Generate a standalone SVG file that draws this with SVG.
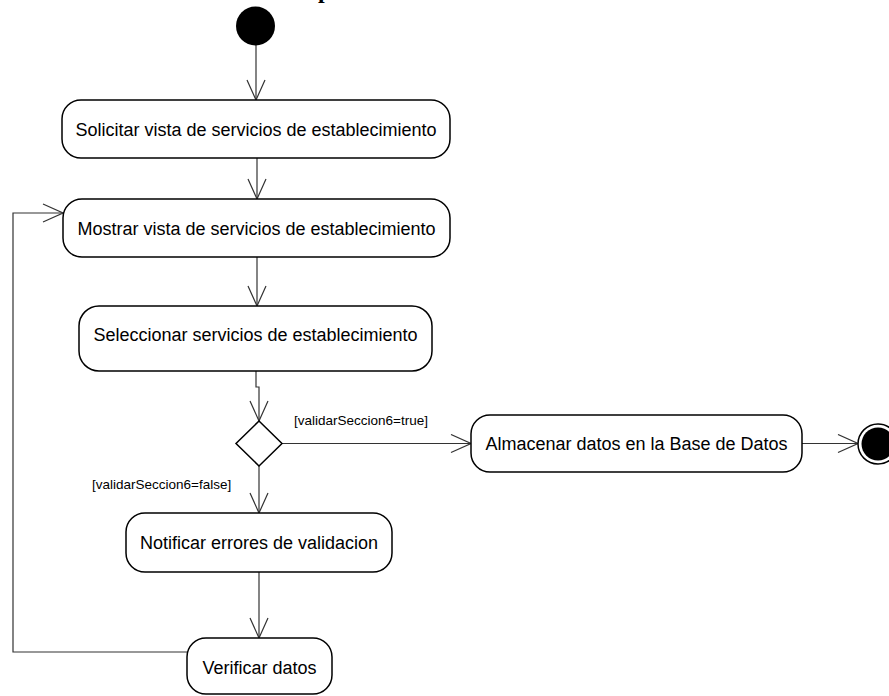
<svg xmlns="http://www.w3.org/2000/svg" width="889" height="696" viewBox="0 0 889 696">
<style>
.box{fill:#fff;stroke:#000;stroke-width:1.5}
.lbl{font-family:"Liberation Sans",Arial,sans-serif;font-size:18px;fill:#000}
.grd{font-family:"Liberation Sans",Arial,sans-serif;font-size:13.5px;fill:#000}
.edge{fill:none;stroke:#333;stroke-width:1.2}
</style>
<defs>
<marker id="open" viewBox="0 0 22 20" refX="21" refY="10" markerWidth="22" markerHeight="20" markerUnits="userSpaceOnUse" orient="auto">
<path d="M1,1 L21,10 L1,19" fill="none" stroke="#333" stroke-width="1.2"/>
</marker>
</defs>
<rect width="889" height="696" fill="#fff"/>
<text x="318" y="-2" font-family="Liberation Serif,serif" font-weight="bold" font-size="24" fill="#000">p</text>
<g id="connectors">
<path class="edge" d="M256,45 V100" marker-end="url(#open)"/>
<path class="edge" d="M257,158 V199" marker-end="url(#open)"/>
<path class="edge" d="M257,257 V306" marker-end="url(#open)"/>
<path class="edge" d="M256,371 V387 H259 V421" marker-end="url(#open)"/>
<path class="edge" d="M282,443.5 H471" marker-end="url(#open)"/>
<path class="edge" d="M259,466 V513" marker-end="url(#open)"/>
<path class="edge" d="M259,572 V638" marker-end="url(#open)"/>
<path class="edge" d="M802,443.5 H858" marker-end="url(#open)"/>
<path class="edge" d="M187,652 H13 V213 H63" marker-end="url(#open)"/>
<text class="grd" x="294" y="425">[validarSeccion6=true]</text>
<text class="grd" x="92" y="489">[validarSeccion6=false]</text>
</g>
<g id="start"><circle cx="255.5" cy="26" r="19.5" fill="#000"/></g>
<g id="n1"><rect class="box" x="62" y="100" width="388" height="58" rx="19"/><text class="lbl" x="256" y="136" text-anchor="middle">Solicitar vista de servicios de establecimiento</text></g>
<g id="n2"><rect class="box" x="63" y="199" width="387" height="58" rx="19"/><text class="lbl" x="256.5" y="235" text-anchor="middle">Mostrar vista de servicios de establecimiento</text></g>
<g id="n3"><rect class="box" x="79" y="306" width="353" height="65" rx="20"/><text class="lbl" x="255.5" y="341" text-anchor="middle">Seleccionar servicios de establecimiento</text></g>
<g id="decision"><polygon points="259,421 282,443.5 259,466 236,443.5" fill="#fff" stroke="#000" stroke-width="1.5"/></g>
<g id="n4"><rect class="box" x="471" y="415" width="331" height="57" rx="19"/><text class="lbl" x="636.5" y="450" text-anchor="middle">Almacenar datos en la Base de Datos</text></g>
<g id="end"><circle cx="878" cy="444" r="20" fill="#fff" stroke="#000" stroke-width="1.5"/><circle cx="878" cy="444" r="16.5" fill="#000"/></g>
<g id="n5"><rect class="box" x="126" y="513" width="266" height="59" rx="19"/><text class="lbl" x="259" y="549" text-anchor="middle">Notificar errores de validacion</text></g>
<g id="n6"><rect class="box" x="187" y="638" width="145" height="56" rx="19"/><text class="lbl" x="259.5" y="674" text-anchor="middle">Verificar datos</text></g>
</svg>
